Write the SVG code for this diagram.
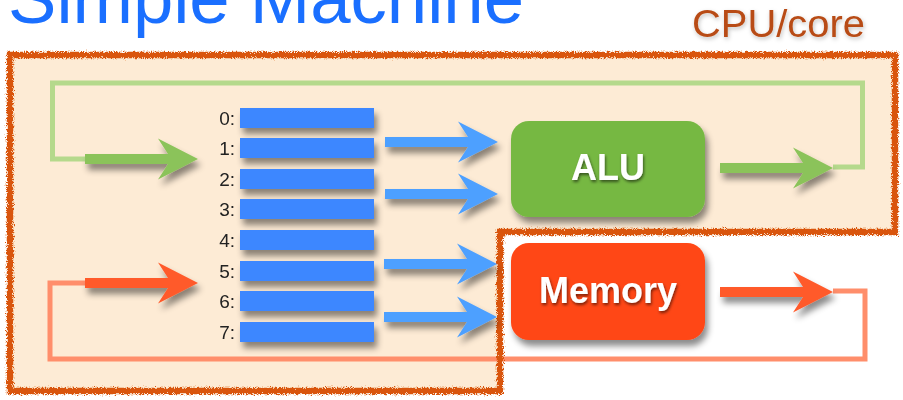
<svg xmlns="http://www.w3.org/2000/svg" width="903" height="400" viewBox="0 0 903 400">
  <defs>
    <style>
      .title { font-family: "Liberation Sans", Arial, sans-serif; font-size: 72px; fill: #1A6FFF; }
      .core { font-family: "Liberation Sans", Arial, sans-serif; font-size: 38px; fill: #B84B14; }
      .reg-label { font-family: "Liberation Sans", Arial, sans-serif; font-size: 19px; fill: #222222; text-anchor: end; }
      .reg { fill: #3C87FF; }
      .box-label { font-family: "Liberation Sans", Arial, sans-serif; font-size: 36px; font-weight: bold; fill: #FFFFFF; text-anchor: middle; }
      .loop { fill: none; stroke-width: 5; stroke-linejoin: miter; }
    </style>
    <filter id="shadow" x="-20%" y="-30%" width="150%" height="190%">
      <feDropShadow dx="3" dy="6" stdDeviation="3" flood-color="#000" flood-opacity="0.45"/>
    </filter>
    <filter id="textShadow" x="-10%" y="-20%" width="130%" height="150%">
      <feDropShadow dx="1" dy="2" stdDeviation="1.5" flood-color="#000" flood-opacity="0.55"/>
    </filter>
    <filter id="softShadow" x="-10%" y="-20%" width="130%" height="150%">
      <feDropShadow dx="1" dy="2" stdDeviation="2" flood-color="#000" flood-opacity="0.25"/>
    </filter>
    <filter id="rough" x="-5%" y="-5%" width="110%" height="110%">
      <feTurbulence type="fractalNoise" baseFrequency="1.1" numOctaves="2" seed="3" result="noise"/>
      <feDisplacementMap in="SourceGraphic" in2="noise" scale="6" xChannelSelector="R" yChannelSelector="G"/>
    </filter>
    <!-- block arrow, tip at the origin pointing right -->
    <path id="arrow" d="M -113,-5 H -30 L -40,-20.5 L 0,0 L -40,20.5 L -30,5 H -113 Z"/>
  </defs>

  <rect width="903" height="400" fill="#FFFFFF"/>

  <!-- headings -->
  <text class="title" x="8" y="23" textLength="516" lengthAdjust="spacingAndGlyphs">Simple Machine</text>
  <text class="core" x="692" y="37" textLength="173" lengthAdjust="spacingAndGlyphs" filter="url(#softShadow)">CPU/core</text>

  <!-- CPU/core region -->
  <g id="cpu-core">
    <path d="M 10,55 H 895 V 232 H 500 V 391 H 10 Z" fill="#FDEBD5"/>
  </g>

  <g id="connectors">
    <!-- feedback loops -->
    <path class="loop" stroke="#B5D98C" d="M 86,159 H 52.5 V 83 H 862.5 V 167 H 833"/>
    <path class="loop" stroke="#FF8E6B" d="M 86,283 H 50 V 359 H 865 V 291 H 833"/>
  </g>

  <!-- rough outline of the CPU/core region -->
  <path d="M 10,55 H 895 V 232 H 500 V 391 H 10 Z" fill="none" stroke="#D9540A" stroke-width="6.5" filter="url(#rough)"/>

  <g id="arrows" filter="url(#shadow)">
    <use href="#arrow" transform="translate(198,159)" fill="#8BC35A"/>
    <use href="#arrow" transform="translate(198,283)" fill="#FF5A2B"/>
    <use href="#arrow" transform="translate(498,142)" fill="#4DA0FF"/>
    <use href="#arrow" transform="translate(498,194)" fill="#4DA0FF"/>
    <use href="#arrow" transform="translate(497,264)" fill="#4DA0FF"/>
    <use href="#arrow" transform="translate(497,317)" fill="#4DA0FF"/>
    <use href="#arrow" transform="translate(833,168)" fill="#8BC35A"/>
    <use href="#arrow" transform="translate(833,292)" fill="#FF5A2B"/>
  </g>

  <!-- register file -->
  <g id="registers">
    <g filter="url(#shadow)">
      <rect class="reg" x="240" y="108" width="134" height="20"/>
      <rect class="reg" x="240" y="138" width="134" height="20"/>
      <rect class="reg" x="240" y="169" width="134" height="20"/>
      <rect class="reg" x="240" y="199" width="134" height="20"/>
      <rect class="reg" x="240" y="230" width="134" height="20"/>
      <rect class="reg" x="240" y="261" width="134" height="20"/>
      <rect class="reg" x="240" y="291" width="134" height="20"/>
      <rect class="reg" x="240" y="322" width="134" height="20"/>
    </g>
    <text class="reg-label" x="235" y="125">0:</text>
    <text class="reg-label" x="235" y="155">1:</text>
    <text class="reg-label" x="235" y="186">2:</text>
    <text class="reg-label" x="235" y="216">3:</text>
    <text class="reg-label" x="235" y="247">4:</text>
    <text class="reg-label" x="235" y="278">5:</text>
    <text class="reg-label" x="235" y="308">6:</text>
    <text class="reg-label" x="235" y="339">7:</text>
  </g>

  <g id="alu">
    <rect x="511" y="121" width="194" height="96" rx="18" fill="#76B843" filter="url(#shadow)"/>
    <text class="box-label" x="608" y="180" filter="url(#textShadow)">ALU</text>
  </g>

  <g id="memory">
    <rect x="511" y="243" width="194" height="97" rx="18" fill="#FF4613" filter="url(#shadow)"/>
    <text class="box-label" x="608" y="303" filter="url(#textShadow)">Memory</text>
  </g>
</svg>
